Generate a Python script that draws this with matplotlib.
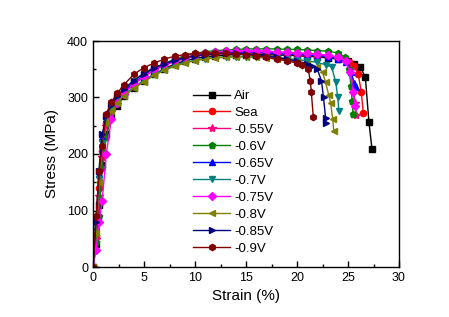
import matplotlib
matplotlib.use("Agg")
import matplotlib.pyplot as plt
from matplotlib.ticker import MultipleLocator

plt.rcParams['font.family'] = ['Liberation Sans', 'DejaVu Sans']

labels = ["Air", "Sea", "-0.55V", "-0.6V", "-0.65V", "-0.7V", "-0.75V", "-0.8V", "-0.85V", "-0.9V"]
colors = ["#000000", "#FF0000", "#FF0080", "#008000", "#0000FF", "#008080", "#FF00FF", "#808000", "#000080", "#800000"]
markers = ["s", "o", "*", "p", "^", "v", "D", "<", ">", "h"]

strain_body = [0, 0.3, 0.6, 0.9, 1.3, 1.8, 2.4, 3, 4, 5, 6, 7, 8, 9, 10, 11, 12, 13, 14, 15, 16, 17, 18, 19, 20]

stress_air = [0, 40, 110, 180, 235, 265, 285, 302, 317, 330, 341, 351, 359, 365, 369, 372, 374, 375, 376, 376, 376, 376, 375, 375, 374]
tail_strain_air = [21, 22, 23, 24, 25, 25.6, 26.2, 26.7, 27.05, 27.35]
tail_stress_air = [373, 372, 370, 368, 364, 360, 354, 336, 257, 209]

stress_sea = [0, 55, 140, 205, 255, 280, 297, 310, 325, 338, 349, 358, 364, 369, 373, 375, 377, 378, 379, 379, 379, 379, 378, 377, 376]
tail_strain_sea = [21, 22, 23, 24, 24.6, 25.1, 25.6, 26.0, 26.3, 26.5]
tail_stress_sea = [375, 374, 373, 371, 368, 363, 355, 342, 310, 273]

stress_055 = [0, 50, 125, 195, 250, 276, 294, 308, 323, 337, 348, 357, 364, 369, 373, 376, 378, 379, 380, 380, 380, 379, 379, 378, 377]
tail_strain_055 = [21, 22, 23, 24, 24.8, 25.2, 25.5, 25.7, 25.8]
tail_stress_055 = [376, 375, 373, 370, 364, 350, 320, 290, 269]

stress_060 = [0, 45, 90, 175, 230, 275, 300, 313, 330, 344, 353, 360, 368, 374, 378, 381, 383, 384, 385, 386, 386, 386, 386, 385, 385]
tail_strain_060 = [21, 22, 23, 24, 24.7, 25.1, 25.3, 25.4, 25.5]
tail_stress_060 = [384, 383, 382, 379, 372, 350, 320, 294, 271]

stress_065 = [0, 70, 165, 230, 262, 283, 298, 311, 326, 339, 350, 358, 365, 370, 374, 377, 379, 380, 380, 380, 380, 379, 378, 377, 376]
tail_strain_065 = [21, 22, 23, 24, 24.8, 25.3, 25.6, 25.8]
tail_stress_065 = [375, 374, 372, 369, 362, 345, 326, 318]

stress_070 = [0, 65, 155, 220, 258, 278, 293, 305, 318, 330, 341, 350, 357, 362, 366, 369, 371, 372, 372, 372, 372, 371, 370, 369, 367]
tail_strain_070 = [21, 22, 22.8, 23.4, 23.8, 24.0, 24.1]
tail_stress_070 = [365, 362, 358, 354, 327, 300, 276]

stress_075 = [0, 30, 80, 117, 200, 262, 290, 307, 324, 338, 350, 359, 366, 371, 375, 378, 380, 382, 383, 383, 383, 382, 381, 380, 379]
tail_strain_075 = [21, 22, 23, 24, 24.8, 25.2, 25.5, 25.7]
tail_stress_075 = [378, 377, 375, 372, 365, 345, 310, 285]

stress_080 = [0, 60, 150, 215, 255, 276, 291, 303, 316, 328, 339, 348, 355, 361, 365, 368, 370, 371, 372, 372, 371, 370, 368, 366, 363]
tail_strain_080 = [21, 22, 22.5, 22.8, 23.1, 23.3, 23.5, 23.6]
tail_stress_080 = [360, 354, 345, 327, 305, 290, 262, 241]

stress_085 = [0, 80, 170, 235, 268, 287, 302, 315, 330, 342, 352, 360, 366, 371, 374, 376, 377, 378, 378, 377, 376, 374, 371, 368, 364]
tail_strain_085 = [21, 21.5, 22.0, 22.4, 22.6, 22.8, 22.8]
tail_stress_085 = [360, 356, 350, 329, 300, 264, 255]

stress_090 = [0, 90, 170, 215, 270, 292, 308, 322, 341, 353, 361, 368, 373, 376, 378, 379, 379, 378, 377, 376, 374, 371, 368, 365, 361]
tail_strain_090 = [20.5, 21.1, 21.3, 21.4, 21.6]
tail_stress_090 = [357, 350, 330, 310, 265]

series = [
    (stress_air, tail_strain_air, tail_stress_air),
    (stress_sea, tail_strain_sea, tail_stress_sea),
    (stress_055, tail_strain_055, tail_stress_055),
    (stress_060, tail_strain_060, tail_stress_060),
    (stress_065, tail_strain_065, tail_stress_065),
    (stress_070, tail_strain_070, tail_stress_070),
    (stress_075, tail_strain_075, tail_stress_075),
    (stress_080, tail_strain_080, tail_stress_080),
    (stress_085, tail_strain_085, tail_stress_085),
    (stress_090, tail_strain_090, tail_stress_090),
]

fig = plt.figure(figsize=(4.49, 3.17), dpi=100)
ax = fig.add_axes([93/449, 50/317, 306/449, 226/317])

for (body, ts, tsy), lab, c, m in zip(series, labels, colors, markers):
    x = strain_body + ts
    y = body + tsy
    ms = 6 if m == "*" else 4.5
    ax.plot(x, y, color=c, marker=m, markersize=ms, linewidth=1.0, label=lab)

ax.set_xlim(0, 30)
ax.set_ylim(0, 400)
ax.xaxis.set_major_locator(MultipleLocator(5))
ax.xaxis.set_minor_locator(MultipleLocator(2.5))
ax.yaxis.set_major_locator(MultipleLocator(100))
ax.yaxis.set_minor_locator(MultipleLocator(50))
ax.tick_params(which='both', direction='in', top=False, right=False, labelsize=9)
ax.tick_params(which='major', length=4, width=1)
ax.tick_params(which='minor', length=2.5, width=1)
for s in ax.spines.values():
    s.set_linewidth(1.0)

ax.set_xlabel("Strain (%)", fontsize=11, labelpad=4)
ax.set_ylabel("Stress (MPa)", fontsize=11, labelpad=6)

ax.legend(loc='upper left', bbox_to_anchor=(0.31, 0.807), frameon=False, fontsize=9.5,
          handlelength=2.8, handletextpad=0.3, labelspacing=0.36, borderaxespad=0)

fig.savefig("out.png", dpi=100)
